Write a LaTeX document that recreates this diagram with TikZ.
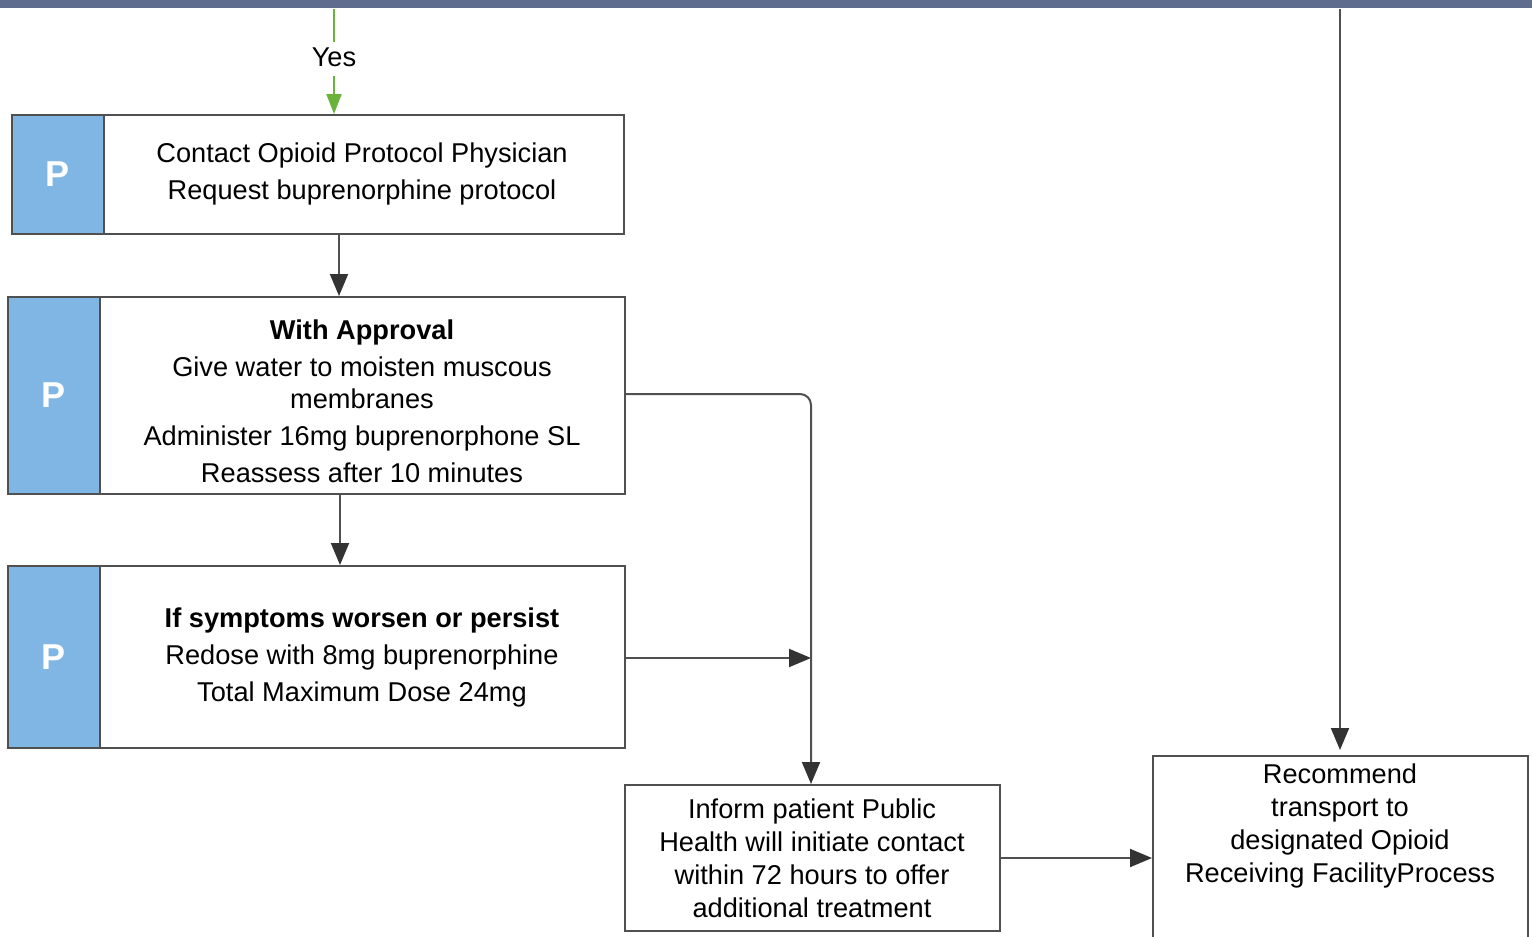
\documentclass[tikz,border=0pt]{standalone}
\usepackage{fontspec}
\setmainfont{Liberation Sans}
\usetikzlibrary{arrows.meta,calc}
\definecolor{barc}{HTML}{5F6C8D}
\definecolor{pblue}{HTML}{80B6E4}
\definecolor{edge}{HTML}{505050}
\definecolor{ygreen}{HTML}{6BB23B}
\definecolor{arrc}{HTML}{333333}
\tikzset{
  box/.style={draw=edge, line width=1pt, fill=white, inner sep=0pt},
  pbox/.style={draw=edge, line width=1pt, fill=pblue, inner sep=0pt, text=white, font=\fontsize{18}{20}\selectfont\bfseries},
  txt/.style={align=center, inner sep=0pt, font=\fontsize{13.6}{18.5}\selectfont},
  txtb/.style={align=center, inner sep=0pt, font=\fontsize{13.6}{16.5}\selectfont},
  arr/.style={draw=edge, line width=1pt, arrows={-{Triangle[length=11pt,width=9pt,color=arrc]}}},
  garr/.style={draw=ygreen, line width=1pt, -{Triangle[length=10pt,width=7.5pt]}},
}
\begin{document}
\begin{tikzpicture}[x=0.5pt,y=-0.5pt]
\useasboundingbox (0,0) rectangle (1532,937);
\clip (0,0) rectangle (1532,937);
\fill[white] (0,0) rectangle (1532,937);
% top bar
\node[fill=barc, inner sep=0pt, minimum width=766pt, minimum height=4pt, anchor=north west] (bar) at (0,0) {};
% box 1
\node[box, minimum width=260pt, minimum height=59.5pt] (b1) at (364,174.5) {};
\node[pbox, minimum width=46pt, minimum height=59.5pt] (p1) at (58,174.5) {P};
\node[txt] (t1) at (362,174) {Contact Opioid Protocol Physician\\Request buprenorphine protocol};
% box 2
\node[box, minimum width=262.5pt, minimum height=98.5pt] (b2) at (362.5,395.5) {};
\node[pbox, minimum width=46pt, minimum height=98.5pt] (p2) at (54,395.5) {P};
\node[txt] (t2) at (362,401) {\textbf{With Approval}\\Give water to moisten muscous\\[-2.5pt]membranes\\Administer 16mg buprenorphone SL\\Reassess after 10 minutes};
% box 3
\node[box, minimum width=262.5pt, minimum height=91pt] (b3) at (362.5,657) {};
\node[pbox, minimum width=46pt, minimum height=91pt] (p3) at (54,657) {P};
\node[txt] (t3) at (362,657) {\textbf{If symptoms worsen or persist}\\Redose with 8mg buprenorphine\\Total Maximum Dose 24mg};
% box 4
\node[box, minimum width=187.5pt, minimum height=73pt] (b4) at (812.5,858) {};
\node[txtb] (t4) at (812,858.5) {Inform patient Public\\Health will initiate contact\\within 72 hours to offer\\additional treatment};
% box 5
\node[box, minimum width=187.5pt, minimum height=105pt, anchor=north] (b5) at (1340.5,755) {};
\node[txtb, anchor=north] (t5) at (1340,763) {Recommend\\transport to\\designated Opioid\\Receiving FacilityProcess};
% Yes
\node[font=\fontsize{13.6}{15}\selectfont, inner sep=0pt] (yes) at (334,57) {Yes};
\draw[draw=ygreen, line width=1pt] (bar.south -| yes) -- (334,42);
\draw[garr] (334,76) -- (b1.north -| yes);
% connectors
\draw[arr] (b1.south -| 339,0) -- (b2.north -| 339,0);
\draw[arr] (b2.south -| 340,0) -- (b3.north -| 340,0);
\coordinate (j) at (811,658);
\draw[arr] (b3.east |- j) -- (j);
\draw[arr, rounded corners=5.5pt] (625,394) -- (811,394) -- (b4.north -| j);
\draw[arr] (b4.east) -- (b5.west |- b4.east);
\draw[arr, shorten >=2.5pt] (bar.south -| 1340,0) -- (b5.north -| 1340,0);
\end{tikzpicture}
\end{document}
